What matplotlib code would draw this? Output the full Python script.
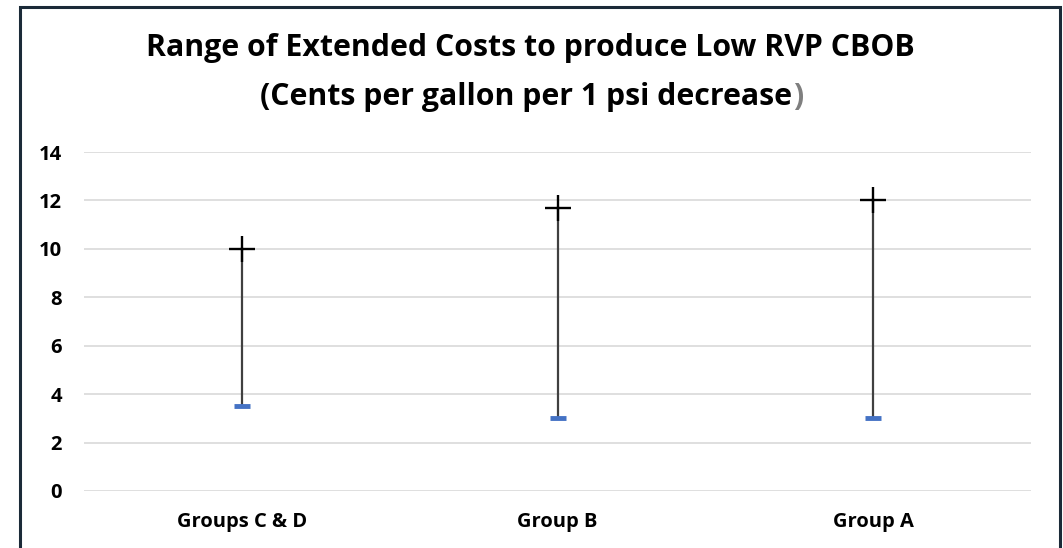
import matplotlib
matplotlib.use("Agg")
import matplotlib.pyplot as plt
from matplotlib.patches import Rectangle

categories = ["Groups C & D", "Group B", "Group A"]
high_values = [10.0, 11.7, 12.0]
low_values = [3.5, 3.0, 3.0]
y_ticks = [0, 2, 4, 6, 8, 10, 12, 14]

plt.rcParams['font.family'] = ['Open Sans', 'DejaVu Sans']

W, H = 1063, 548
fig = plt.figure(figsize=(W / 100, H / 100), dpi=100)

# outer border
fig.patches.append(Rectangle((20 / W, -0.05), 1040 / W, 1.05 - 7 / H,
                             transform=fig.transFigure, fill=False,
                             edgecolor='#1b2a38', linewidth=2.2))

ax = fig.add_axes([84 / W, 1 - 491 / H, (1031 - 84) / W, (491 - 152) / H])
x = list(range(len(categories)))

for xi, hi, lo in zip(x, high_values, low_values):
    ax.plot([xi, xi], [lo, hi], color='#404040', linewidth=1.6, zorder=3)
ax.plot(x, high_values, linestyle='none', marker='+', markersize=19,
        markeredgewidth=1.7, color='black', zorder=4)
ax.plot(x, low_values, linestyle='none', marker='_', markersize=11,
        markeredgewidth=3.5, color='#4472C4', zorder=4)

ax.set_xlim(-0.5, len(categories) - 0.5)
ax.set_ylim(0, 14)
ax.set_yticks(y_ticks)
ax.set_yticklabels([str(t) for t in y_ticks], fontsize=14.5, fontweight='bold')
ax.set_xticks(x)
ax.set_xticklabels(categories, fontsize=14.5, fontweight='bold')
ax.tick_params(axis='both', length=0)
ax.tick_params(axis='y', pad=16)
ax.tick_params(axis='x', pad=15)
ax.grid(axis='y', color='#d9d9d9', linewidth=1.2)
ax.set_axisbelow(True)
for s in ax.spines.values():
    s.set_visible(False)

t1 = fig.text(530 / W, 1 - 48 / H, "Range of Extended Costs to produce Low RVP CBOB",
              ha='center', va='center', fontsize=21.8, fontweight='bold')

line2 = "(Cents per gallon per 1 psi decrease"
t2 = fig.text(0, 1 - 97 / H, line2, ha='left', va='center', fontsize=21.8,
              fontweight='bold')
p2 = fig.text(0, 1 - 97 / H, ")", ha='left', va='center', fontsize=21.8,
              fontweight='bold', color='#7f7f7f')
fig.canvas.draw()
r = fig.canvas.get_renderer()
w_main = t2.get_window_extent(r).width
w_par = p2.get_window_extent(r).width
x0 = 531 - (w_main + w_par) / 2
t2.set_x(x0 / W)
p2.set_x((x0 + w_main + 1) / W)

fig.savefig("out.png", dpi=100)
